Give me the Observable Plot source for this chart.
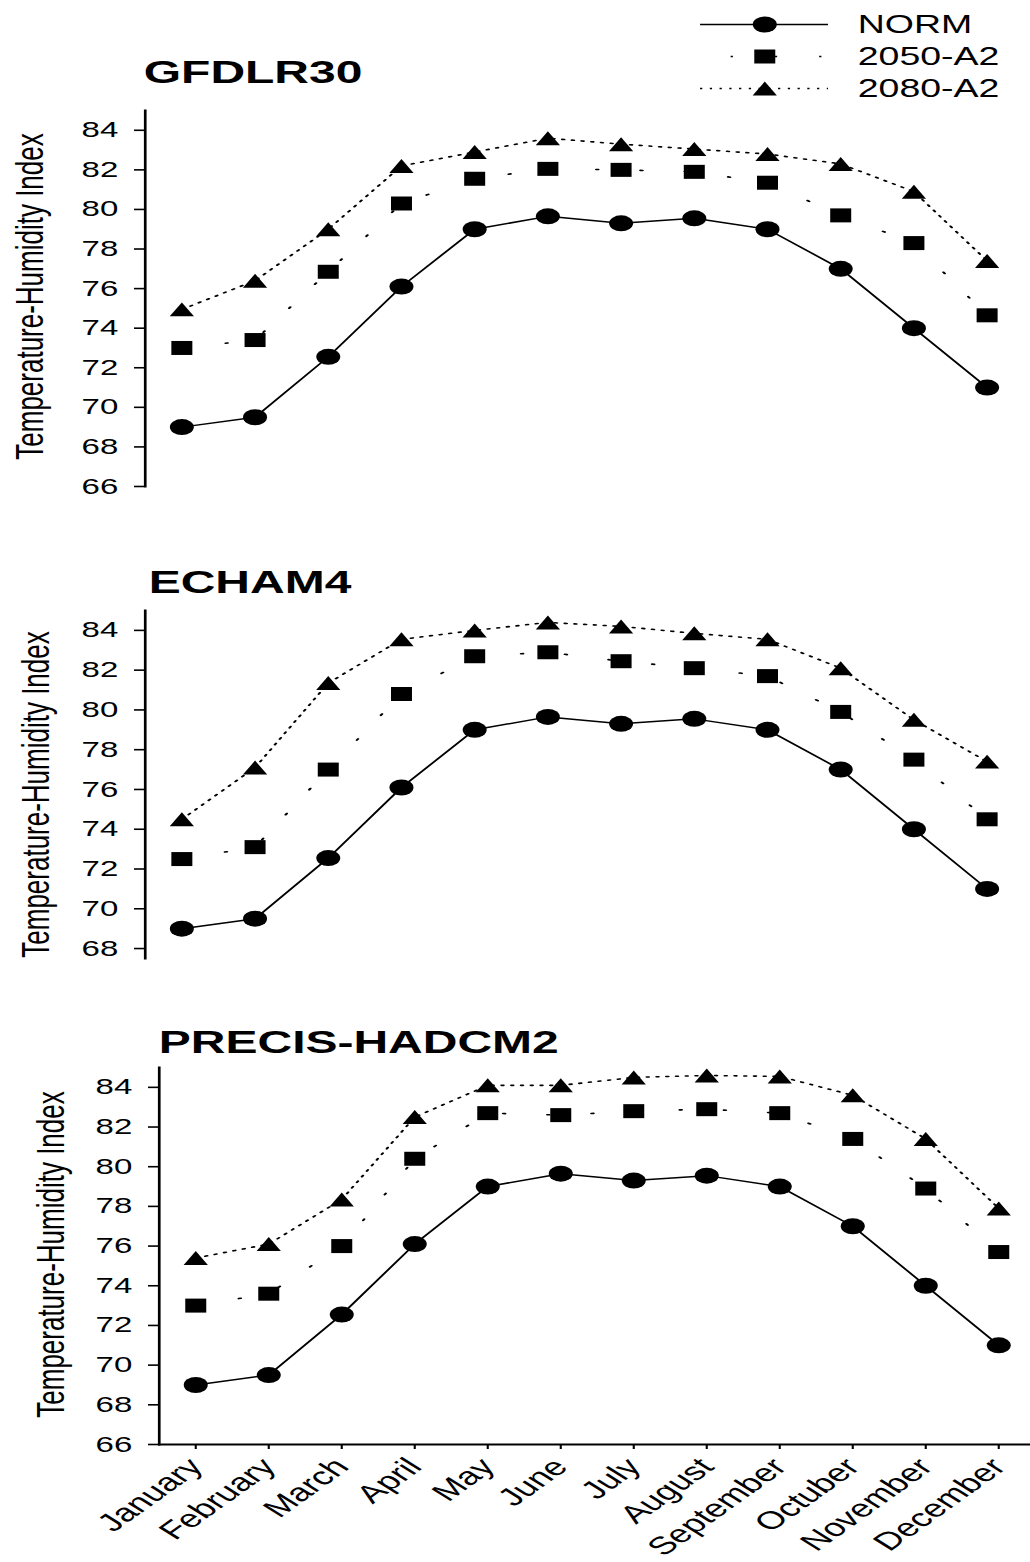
<!DOCTYPE html>
<html>
<head>
<meta charset="utf-8">
<script src="https://cdn.jsdelivr.net/npm/d3@7"></script>
<script src="https://cdn.jsdelivr.net/npm/@observablehq/plot@0.6"></script>
<style>
  html, body { margin: 0; padding: 0; background: white; overflow: hidden; }
  #wrap { position: relative; width: 686.67px; height: 1562px; transform: scaleX(1.5); transform-origin: 0 0; }
  #wrap > svg { position: absolute; left: 0; overflow: visible; max-width: none; }
</style>
</head>
<body>
<div id="wrap"></div>
<script>
// ---- data ----
const months = ["January","February","March","April","May","June","July","August","September","Octuber","November","December"];
const series = ["NORM", "2050-A2", "2080-A2"];
const yLabel = "Temperature-Humidity Index";

const norm = [69.0, 69.5, 72.55, 76.1, 79.0, 79.65, 79.3, 79.55, 79.0, 77.0, 74.0, 71.0];

const gfdl2050 = [73.0, 73.4, 76.85, 80.3, 81.55, 82.05, 82.0, 81.9, 81.35, 79.7, 78.3, 74.65];
const gfdl2080 = [74.95, 76.4, 79.0, 82.2, 82.9, 83.6, 83.3, 83.05, 82.8, 82.3, 80.9, 77.4];

const echam2050 = [72.5, 73.1, 77.0, 80.8, 82.7, 82.9, 82.45, 82.1, 81.7, 79.9, 77.5, 74.5];
const echam2080 = [74.5, 77.1, 81.35, 83.55, 84.0, 84.4, 84.2, 83.85, 83.55, 82.1, 79.5, 77.4];

const precis2050 = [73.0, 73.6, 76.0, 80.4, 82.7, 82.6, 82.8, 82.9, 82.7, 81.4, 78.9, 75.7];
const precis2080 = [75.4, 76.1, 78.35, 82.5, 84.1, 84.1, 84.5, 84.6, 84.55, 83.6, 81.4, 77.9];

const ticksFull = [66, 68, 70, 72, 74, 76, 78, 80, 82, 84];
const ticksShort = [68, 70, 72, 74, 76, 78, 80, 82, 84];

// ---- styling ----
const FONT = "'Liberation Sans', Arial, Helvetica, sans-serif";
const W = 1030 / 1.5;
const DASH2050 = "1.5,28";
const DASH2080 = "1.5,5";

// triangle centred on its bounding box
const triangleBox = {
  draw(ctx, size) {
    const y = Math.sqrt(size / (Math.sqrt(3) * 3));
    const h = 3 * y, w = 2 * Math.sqrt(3) * y;
    ctx.moveTo(0, -h / 2);
    ctx.lineTo(w / 2, h / 2);
    ctx.lineTo(-w / 2, h / 2);
    ctx.closePath();
  }
};

function panel(cfg) {
  const showX = cfg.showX;
  const marks = [
    Plot.frame({anchor: "left", strokeWidth: 1.8}),
    Plot.axisY({ticks: cfg.ticks, tickSize: 7, tickPadding: 11, fontSize: 22, strokeWidth: 1.6, label: null, tickFormat: d => String(d)}),
  ];
  if (showX) {
    marks.push(Plot.frame({anchor: "bottom", strokeWidth: 1.8}));
    marks.push(Plot.axisX({tickSize: 5, tickPadding: 13, tickRotate: -47, textAnchor: "end", lineAnchor: "middle",
      fontSize: 25, strokeWidth: 1.4, label: null}));
  }
  marks.push(
    Plot.lineY(cfg.s2080, {x: months, stroke: "black", strokeWidth: 1.6, strokeDasharray: DASH2080}),
    Plot.lineY(cfg.s2050, {x: months, stroke: "black", strokeWidth: 1.6, strokeDasharray: DASH2050}),
    Plot.lineY(norm, {x: months, stroke: "black", strokeWidth: 1.5}),
    Plot.dot(cfg.s2080, {x: months, y: d => d, symbol: triangleBox, r: 6, fill: "black"}),
    Plot.dot(cfg.s2050, {x: months, y: d => d, symbol: "square", r: 7.9, fill: "black"}),
    Plot.dot(norm, {x: months, y: d => d, r: 8, fill: "black"}),
    Plot.text([cfg.title], {text: d => d, frameAnchor: "top-left", textAnchor: "start", lineAnchor: "bottom",
      dx: cfg.titleDx, dy: cfg.titleDy, fontSize: 32, fontWeight: "bold", fill: "black"}),
    Plot.text([yLabel], {text: d => d, frameAnchor: "left", rotate: -90, textAnchor: "middle", lineAnchor: "middle",
      dx: cfg.labDx, dy: cfg.labDy, fontSize: 26, fill: "black"})
  );
  const svg = Plot.plot({
    width: cfg.width || W, height: cfg.height,
    marginLeft: cfg.mL, marginRight: cfg.mR, marginTop: cfg.mT, marginBottom: cfg.mB,
    style: {fontFamily: FONT, color: "black", background: "transparent", overflow: "visible", maxWidth: "none"},
    x: {type: "point", domain: months, padding: 0.5, round: false, axis: showX ? undefined : null},
    y: {domain: cfg.yDomain},
    marks
  });
  svg.style.top = cfg.top + "px";
  return svg;
}

const wrap = document.getElementById("wrap");

wrap.appendChild(panel({
  title: "GFDLR30", s2050: gfdl2050, s2080: gfdl2080,
  top: 0, height: 500, mT: 110, mB: 14, mL: 96.33, mR: 4.67,
  yDomain: [66, 85], ticks: ticksFull, showX: false,
  titleDx: -1, titleDy: -27, labDx: -76.3, labDy: -2
}));

wrap.appendChild(panel({
  title: "ECHAM4", s2050: echam2050, s2080: echam2080,
  top: 540, height: 440, mT: 70, mB: 22, mL: 96.33, mR: 4.67,
  yDomain: [67.5, 85], ticks: ticksShort, showX: false,
  titleDx: 2.3, titleDy: -17, labDx: -72.3, labDy: 10
}));

wrap.appendChild(panel({
  title: "PRECIS-HADCM2", s2050: precis2050, s2080: precis2080,
  top: 1010, height: 552, width: 692, mT: 57, mB: 118, mL: 105.67, mR: 2.33,
  yDomain: [66, 85], ticks: ticksFull, showX: true,
  titleDx: -0.3, titleDy: -15, labDx: -72, labDy: -1.5
}));

// ---- legend ----
const legend = Plot.plot({
  width: 240, height: 110,
  marginLeft: 16.7, marginRight: 138, marginTop: 23.5, marginBottom: 21,
  style: {fontFamily: FONT, color: "black", background: "transparent", overflow: "visible", maxWidth: "none"},
  x: {domain: [0, 1], axis: null},
  y: {type: "point", domain: series, padding: 0, axis: null},
  marks: [
    Plot.ruleY([series[0]], {y: d => d, x1: 0, x2: 1, stroke: "black", strokeWidth: 1.5}),
    Plot.ruleY([series[1]], {y: d => d, x1: 0, x2: 1, stroke: "black", strokeWidth: 1.6, strokeDasharray: DASH2050, strokeDashoffset: 9.1}),
    Plot.ruleY([series[2]], {y: d => d, x1: 0, x2: 1, stroke: "black", strokeWidth: 1.6, strokeDasharray: DASH2080}),
    Plot.dot([series[0]], {y: d => d, x: 0.5, r: 8, fill: "black"}),
    Plot.dot([series[1]], {y: d => d, x: 0.5, r: 7.9, symbol: "square", fill: "black"}),
    Plot.dot([series[2]], {y: d => d, x: 0.5, r: 6, symbol: triangleBox, fill: "black"}),
    Plot.text(series, {y: d => d, x: 1, text: d => d, dx: 19.3, textAnchor: "start", fontSize: 25, fill: "black"})
  ]
});
legend.style.top = "0px";
legend.style.left = "450px";
wrap.appendChild(legend);
</script>
</body>
</html>
